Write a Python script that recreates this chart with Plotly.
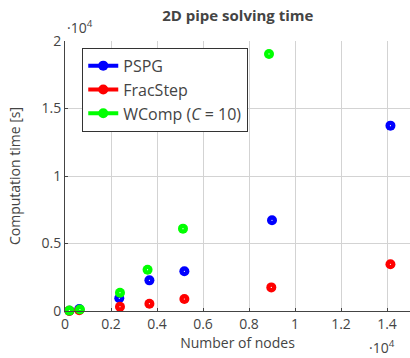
import plotly.graph_objects as go

# Mesh sizes (number of nodes) and wall-clock solve times [s] per scheme
nodes_pspg = [190, 620, 2360, 3670, 5190, 9000, 14150]
time_pspg = [20, 150, 940, 2270, 2940, 6720, 13730]

nodes_frac = [190, 620, 2390, 3670, 5190, 8970, 14150]
time_frac = [10, 60, 320, 540, 890, 1750, 3460]

nodes_wcomp = [190, 650, 2390, 3590, 5130, 8870]
time_wcomp = [30, 110, 1356, 3060, 6100, 19040]

x_ticks = [0, 2000, 4000, 6000, 8000, 10000, 12000, 14000]
x_labels = ["0", "0.2", "0.4", "0.6", "0.8", "1", "1.2", "1.4"]
y_ticks = [0, 5000, 10000, 15000, 20000]
y_labels = ["0", "0.5", "1", "1.5", "2"]

series = [
    ("PSPG", nodes_pspg, time_pspg, "#0000ff"),
    ("FracStep", nodes_frac, time_frac, "#ff0000"),
    ("WComp (<i>C</i> = 10)", nodes_wcomp, time_wcomp, "#00ff00"),
]

FONT = "Open Sans"
TXT = "#444444"

fig = go.Figure()
for name, xs, ys, col in series:
    # filled circles
    fig.add_trace(go.Scatter(
        x=xs, y=ys, mode="markers", name=name, showlegend=False,
        marker=dict(size=10, color=col, line=dict(width=0)),
        cliponaxis=False,
    ))
    # small white centre dot on each marker
    fig.add_trace(go.Scatter(
        x=xs, y=ys, mode="markers", showlegend=False, hoverinfo="skip",
        marker=dict(size=1.2, color="white", line=dict(width=0)),
        cliponaxis=False,
    ))
    # legend entry: thick line with circle
    fig.add_trace(go.Scatter(
        x=[None], y=[None], mode="lines+markers", name=name,
        line=dict(color=col, width=4),
        marker=dict(size=10, color=col),
    ))

fig.update_layout(
    width=410, height=358,
    margin=dict(l=65, r=0, t=41, b=47),
    paper_bgcolor="white", plot_bgcolor="white",
    font=dict(family=FONT, size=14, color=TXT),
    title=dict(text="<b>2D pipe solving time</b>", x=0.58, xanchor="center",
               y=0.955, yanchor="middle", font=dict(size=15, color=TXT)),
    showlegend=True,
    legend=dict(x=0.05, y=0.975, xanchor="left", yanchor="top",
                bgcolor="white", bordercolor="#333333", borderwidth=1,
                font=dict(size=16, color=TXT), itemwidth=30,
                tracegroupgap=0),
    xaxis=dict(range=[0, 15000], tickvals=x_ticks, ticktext=x_labels,
               showgrid=True, gridcolor="#d3d3d3", gridwidth=1,
               showline=True, linecolor="#444444", linewidth=1,
               ticks="inside", ticklen=3, tickcolor="#444444",
               zeroline=False, tickfont=dict(size=14, color=TXT),
               title=dict(text="Number of nodes", standoff=6,
                          font=dict(size=14, color=TXT))),
    yaxis=dict(range=[0, 20000], tickvals=y_ticks, ticktext=y_labels,
               showgrid=True, gridcolor="#d3d3d3", gridwidth=1,
               showline=True, linecolor="#444444", linewidth=1,
               ticks="inside", ticklen=3, tickcolor="#444444",
               zeroline=False, tickfont=dict(size=14, color=TXT),
               title=dict(text="Computation time [s]", standoff=17,
                          font=dict(size=14, color=TXT))),
)

# axis scale multipliers
fig.add_annotation(text="·10<sup>4</sup>", xref="paper", yref="paper",
                   x=0.0, y=1.0, xanchor="left", yanchor="bottom", yshift=2,
                   showarrow=False, font=dict(size=14, color=TXT))
fig.add_annotation(text="·10<sup>4</sup>", xref="paper", yref="paper",
                   x=0.92, y=0.0, xanchor="center", yanchor="top", yshift=-24,
                   showarrow=False, font=dict(size=14, color=TXT))

fig.write_html("out.html")
